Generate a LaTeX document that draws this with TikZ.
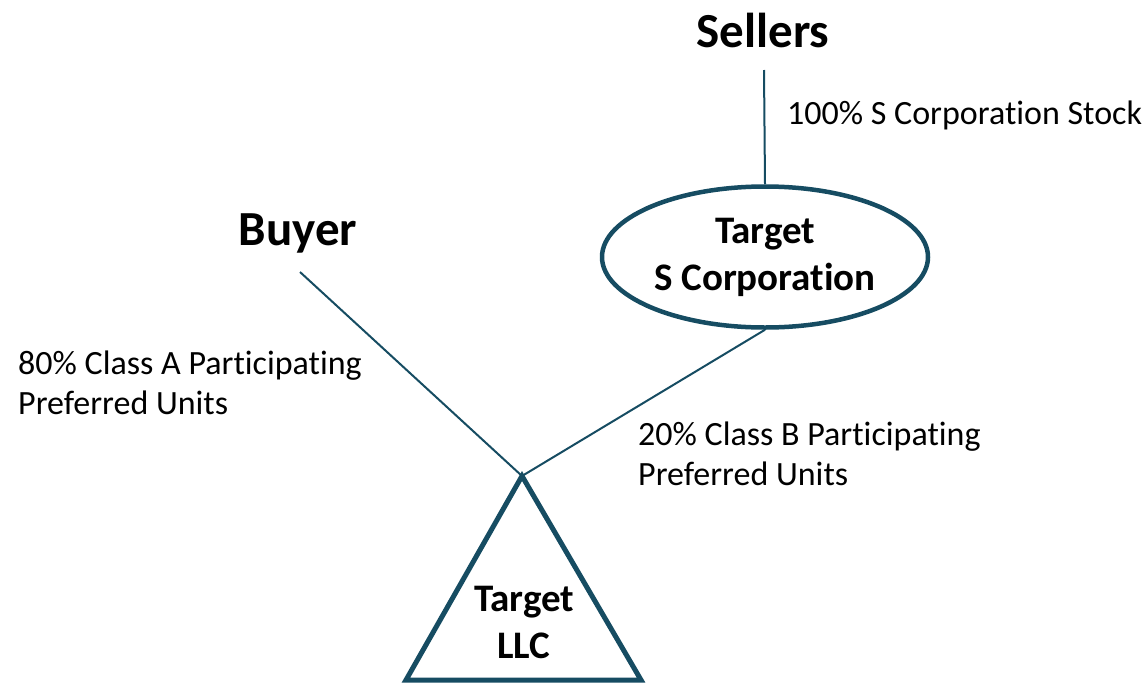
\documentclass[tikz,border=0pt]{standalone}
\usepackage{fontspec}
\setmainfont{Carlito}[Ligatures=NoCommon]
\usetikzlibrary{shapes.geometric}
\definecolor{linkteal}{RGB}{22,76,98}

\begin{document}
\begin{tikzpicture}[x=1pt,y=-1pt,
    party/.style={font=\bfseries\fontsize{49}{55}\selectfont,inner sep=0pt},
    share/.style={font=\fontsize{34}{40}\selectfont,align=left,anchor=west,inner sep=0pt},
    entity/.style={font=\bfseries\fontsize{39}{47}\selectfont,align=center,inner sep=0pt},
    link/.style={draw=linkteal,line width=2pt}]
                \useasboundingbox (0,0) rectangle (1146,683);

                \node[party] (sellers) at (763,30) {Sellers};
                \node[party] (buyer) at (298,233) {Buyer};
                \node[entity,ellipse,draw=linkteal,line width=4.5pt,minimum width=326pt,minimum height=141pt] (scorp) at (765,257) {Target\\S Corporation};
                \node[entity] (llc) at (524,622) {Target\\LLC};

                \node[share] (stock) at (787,115) {100\% S Corporation Stock};
                \node[share] (classA) at (18,383) {80\% Class A Participating\\Preferred Units};
                \node[share] (classB) at (638,454) {20\% Class B Participating\\Preferred Units};

                \coordinate (sellersfoot) at (764,70);
                \coordinate (buyerfoot) at (300,272);
                \coordinate (apex) at (522,476);
                \coordinate (baseL) at (406,680);
                \coordinate (baseR) at (641,680);

                \draw[draw=linkteal,line width=5pt,line join=miter] (apex) -- (baseR) -- (baseL) -- cycle;

                \path [link] (sellersfoot) edge (scorp.north);
                \path [link] (buyerfoot) edge (apex);
                \path [link] (scorp.south) edge (apex);
            \end{tikzpicture}
\end{document}
